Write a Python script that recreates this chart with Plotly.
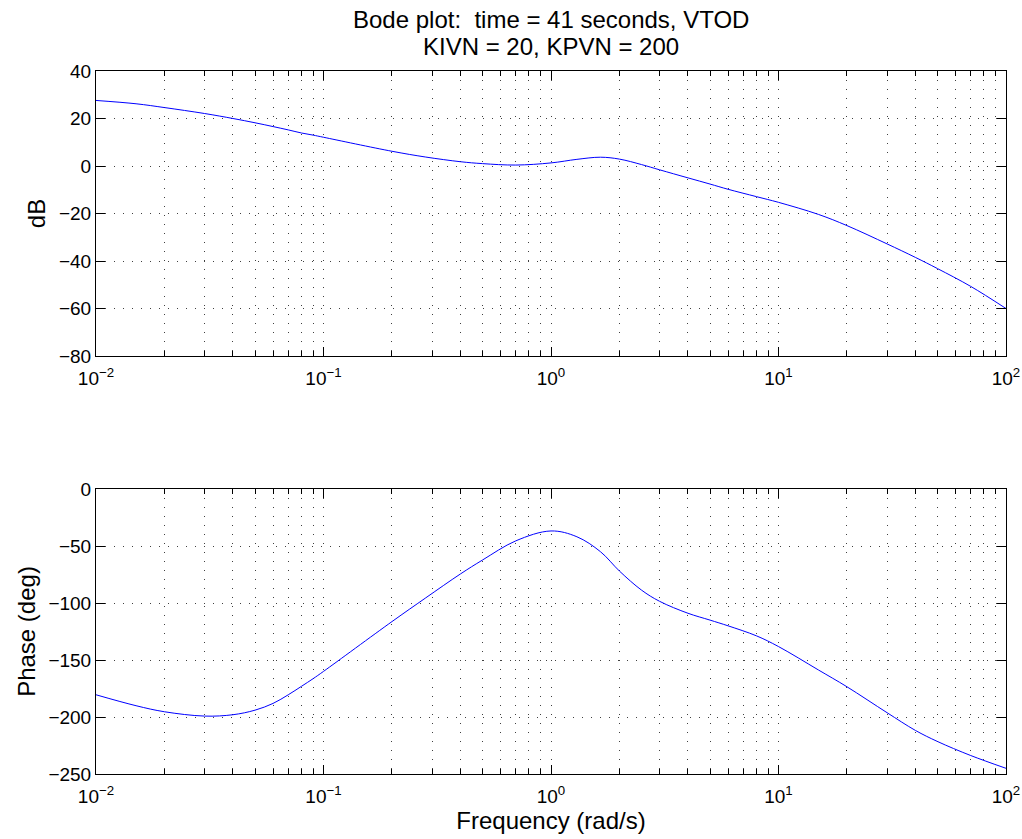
import plotly.graph_objects as go
from plotly.subplots import make_subplots

# ---- data ----
freq = [0.01, 0.015, 0.02, 0.03, 0.04, 0.05, 0.06, 0.07, 0.08, 0.09, 0.1,
        0.2, 0.28, 0.4, 0.5, 0.7, 1.0, 1.3, 1.65, 2.0, 2.5, 3, 4, 5, 6, 8,
        10, 15, 20, 30, 40, 50, 70, 100]
mag_db = [27.6, 26.2, 24.6, 22.1, 20.0, 18.2, 16.6, 15.2, 13.9, 13.0, 12.1,
          6.2, 3.8, 1.8, 1.0, 0.4, 1.3, 2.8, 3.7, 2.9, 0.6, -1.6, -5.0, -7.6,
          -9.8, -12.9, -15.3, -20.4, -25.1, -32.8, -38.5, -43.2, -50.7, -60.0]
phase_deg = [-180.5, -190.1, -195.4, -199.2, -198.0, -194.0, -188.1, -180.5,
             -173.1, -166.4, -160.0, -116.3, -95.8, -74.5, -62.3, -45.5, -36.8,
             -41.9, -55.0, -72.0, -88.7, -98.5, -109.0, -115.0, -120.0, -128.8,
             -138.2, -158.8, -173.5, -196.2, -211.8, -221.5, -233.8, -245.0]

mag_ticks = [-80, -60, -40, -20, 0, 20, 40]
phase_ticks = [-250, -200, -150, -100, -50, 0]
x_tickvals = [0.01, 0.1, 1, 10, 100]
x_ticktext = ["10<sup>\u22122</sup>", "10<sup>\u22121</sup>", "10<sup>0</sup>",
              "10<sup>1</sup>", "10<sup>2</sup>"]
minor_vals = [m * 10 ** e for e in range(-2, 2) for m in range(2, 10)]

title_line1 = "Bode plot:  time = 41 seconds, VTOD"
title_line2 = "KIVN = 20, KPVN = 200"

FONT = "Liberation Sans, Arial, Helvetica, sans-serif"
GRID_DASH = "1px,8px"
GRID_COLOR = "rgba(0,0,0,0.75)"

fig = make_subplots(rows=2, cols=1, vertical_spacing=0.19)

fig.add_trace(go.Scatter(x=freq, y=mag_db, mode="lines", line_shape="spline",
                         line=dict(color="#0000ff", width=1)), row=1, col=1)
fig.add_trace(go.Scatter(x=freq, y=phase_deg, mode="lines", line_shape="spline",
                         line=dict(color="#0000ff", width=1)), row=2, col=1)

xcommon = dict(type="log", range=[-2, 2], tickvals=x_tickvals, ticktext=x_ticktext,
               ticks="inside", ticklen=9, tickcolor="black", showline=True,
               linecolor="black", linewidth=1, mirror="allticks",
               ticklabeloverflow="allow", ticklabelstandoff=5,
               showgrid=True, gridcolor=GRID_COLOR, griddash=GRID_DASH, gridwidth=1,
               minor=dict(tickvals=minor_vals, ticks="inside", ticklen=5,
                          tickcolor="black", showgrid=True, gridcolor=GRID_COLOR,
                          griddash=GRID_DASH, gridwidth=1),
               zeroline=False, tickfont=dict(family=FONT, size=19, color="black"))
ycommon = dict(ticks="inside", ticklen=9, tickcolor="black", showline=True,
               linecolor="black", linewidth=1, mirror="allticks",
               showgrid=True, gridcolor=GRID_COLOR, griddash=GRID_DASH, gridwidth=1,
               zeroline=False, tickfont=dict(family=FONT, size=19, color="black"))

fig.update_xaxes(**xcommon)
fig.update_xaxes(title=dict(text="Frequency (rad/s)", font=dict(family=FONT, size=24, color="black"),
                            standoff=6), row=2, col=1)
fig.update_yaxes(**ycommon)
fig.update_yaxes(range=[-80, 40], tickvals=mag_ticks,
                 title=dict(text="dB", font=dict(family=FONT, size=24, color="black"), standoff=6),
                 row=1, col=1)
fig.update_yaxes(range=[-250, 0], tickvals=phase_ticks,
                 title=dict(text="Phase (deg)", font=dict(family=FONT, size=24, color="black"), standoff=6),
                 row=2, col=1)

fig.layout.yaxis.domain = [0.5946, 1.0]
fig.layout.yaxis2.domain = [0.0, 0.4054]

fig.add_annotation(text=title_line1, xref="paper", yref="paper",
                   x=0.5, y=1.0, xanchor="center", yanchor="bottom", yshift=36,
                   showarrow=False, font=dict(family=FONT, size=24, color="black"))
fig.add_annotation(text=title_line2, xref="paper", yref="paper",
                   x=0.5, y=1.0, xanchor="center", yanchor="bottom", yshift=9,
                   showarrow=False, font=dict(family=FONT, size=24, color="black"))

fig.update_layout(width=1022, height=839, showlegend=False,
                  paper_bgcolor="white", plot_bgcolor="white",
                  margin=dict(l=96, r=16, t=71, b=65, autoexpand=False),
                  font=dict(family=FONT, color="black"))

# remove the default page margin so the figure fills the window exactly
fig.write_html("out.html", config={"displayModeBar": False},
               post_script="document.body.style.margin='0';"
                           "document.body.style.overflow='hidden';")
